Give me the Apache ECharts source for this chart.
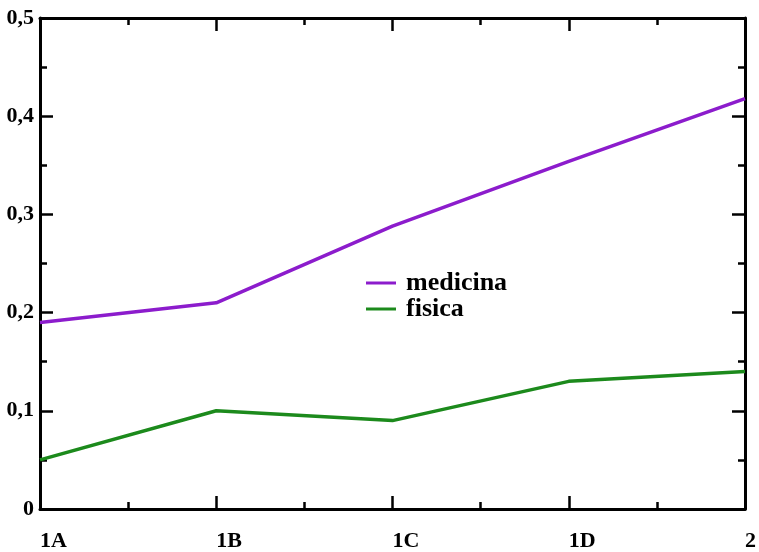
<!DOCTYPE html>
<html>
<head>
<meta charset="utf-8">
<script src="https://cdn.jsdelivr.net/npm/echarts@6/dist/echarts.min.js"></script>
<style>
  html, body { margin: 0; padding: 0; background: #fff; }
  #chart { width: 759px; height: 552px; }
</style>
</head>
<body>
<div id="chart"></div>
<script>
// Class groups along the x axis
const categories = ['1A', '1B', '1C', '1D', '2'];
// Share per group for each subject
const medicina = [0.19, 0.21, 0.288, 0.354, 0.418];
const fisica = [0.05, 0.10, 0.09, 0.13, 0.14];
const seriesNames = ['medicina', 'fisica'];

const FONT = '"Liberation Serif", "DejaVu Serif", serif';
const toPoints = vals => vals.map((v, i) => [i, v]);

const frameX = (show, pos) => ({
  type: 'value', position: pos, min: 0, max: categories.length - 1, interval: 1,
  axisLine: { show: true, onZero: false, lineStyle: { color: '#000', width: 3 } },
  axisTick: { show: true, inside: true, length: 13, lineStyle: { color: '#000', width: 2.5 } },
  minorTick: { show: true, splitNumber: 2, length: 7, lineStyle: { color: '#000', width: 2.5 } },
  splitLine: { show: false },
  axisLabel: show ? {
    show: true, margin: 21, align: 'left',
    fontFamily: FONT, fontWeight: 'bold', fontSize: 22, color: '#000',
    formatter: v => categories[v] ?? ''
  } : { show: false }
});

const frameY = (show, pos) => ({
  type: 'value', position: pos, min: 0, max: 0.5, interval: 0.1,
  axisLine: { show: true, onZero: false, lineStyle: { color: '#000', width: 3 } },
  axisTick: { show: true, inside: true, length: 13, lineStyle: { color: '#000', width: 2.5 } },
  minorTick: { show: true, splitNumber: 2, length: 7, lineStyle: { color: '#000', width: 2.5 } },
  splitLine: { show: false },
  axisLabel: show ? {
    show: true, margin: 6,
    fontFamily: FONT, fontWeight: 'bold', fontSize: 22, color: '#000',
    formatter: v => (v === 0 ? '0' : v.toFixed(1).replace('.', ','))
  } : { show: false }
});

const chart = echarts.init(document.getElementById('chart'), null, { renderer: 'canvas' });
chart.setOption({
  backgroundColor: '#fff',
  animation: false,
  grid: { left: 40, right: 11, top: 18, bottom: 39, containLabel: false },
  xAxis: [frameX(true, 'bottom'), frameX(false, 'top')],
  yAxis: [frameY(true, 'left'), frameY(false, 'right')],
  legend: {
    orient: 'vertical', left: 366, top: 270, padding: 0,
    itemWidth: 30, itemHeight: 3, itemGap: 0, icon: 'rect',
    textStyle: { fontFamily: FONT, fontWeight: 'bold', fontSize: 26, color: '#000',
                 lineHeight: 26, padding: [0, 0, 0, 5] },
    data: seriesNames
  },
  series: [
    { name: seriesNames[0], type: 'line', data: toPoints(medicina), showSymbol: false,
      color: '#8c1ccc', lineStyle: { width: 3.5, color: '#8c1ccc' } },
    { name: seriesNames[1], type: 'line', data: toPoints(fisica), showSymbol: false,
      color: '#1c8a1c', lineStyle: { width: 3.5, color: '#1c8a1c' } }
  ]
});
</script>
</body>
</html>
